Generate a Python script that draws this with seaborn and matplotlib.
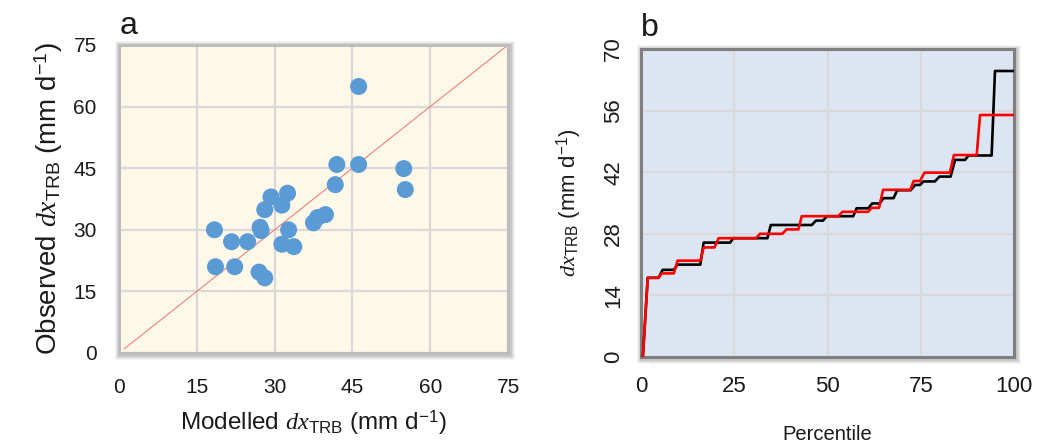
import numpy as np
import pandas as pd
import matplotlib
matplotlib.use("Agg")
import matplotlib.pyplot as plt
from matplotlib.patches import Rectangle
import seaborn as sns

# ---------------- data ----------------
# panel a: modelled vs observed dx_TRB (mm d-1)
modelled = [46.2, 42.0, 46.2, 54.9, 55.2, 41.7, 32.5, 29.3, 31.4, 28.1,
            39.8, 38.3, 37.5, 27.2, 27.4, 32.7, 18.4, 21.7, 24.8, 31.4,
            33.7, 18.6, 22.3, 27.0, 28.1]
observed = [64.9, 45.9, 45.9, 44.9, 39.8, 41.0, 38.9, 38.0, 36.0, 34.9,
            33.7, 33.0, 31.7, 30.6, 29.8, 30.0, 30.0, 27.1, 27.1, 26.5,
            25.9, 21.0, 21.0, 19.7, 18.3]
one_to_one = [1, 75]

# panel b: percentile curves (flat segments: start pct, end pct, level)
curve_start = (0.5, 0.0)
obs_seg_start = [1.8, 5.8, 9.8, 16.8, 24.7, 34.8, 46.9, 49.8, 57.8, 62.0,
                 65.0, 68.7, 73.5, 75.7, 80.0, 84.2, 87.8, 94.9]
obs_seg_end = [4.7, 8.8, 15.9, 23.9, 33.9, 45.8, 48.8, 56.9, 60.9, 64.0,
               67.7, 72.3, 74.8, 78.8, 83.0, 86.9, 94.0, 100.0]
obs_level = [18.0, 19.8, 21.0, 26.0, 27.0, 30.0, 31.0, 32.0, 33.8, 34.9,
             36.1, 37.9, 39.1, 39.9, 41.0, 44.8, 45.8, 65.0]

mod_seg_start = [1.8, 5.6, 9.8, 16.8, 20.8, 31.9, 39.0, 43.1, 54.0, 61.8,
                 64.9, 73.1, 76.0, 83.9, 90.9]
mod_seg_end = [4.7, 8.8, 15.9, 19.7, 30.8, 37.9, 42.2, 52.9, 60.9, 63.8,
               72.2, 74.8, 82.8, 90.0, 100.0]
mod_level = [18.0, 19.0, 21.9, 24.9, 27.0, 28.0, 29.0, 32.0, 33.0, 33.9,
             38.0, 40.0, 41.9, 45.9, 55.0]

a_ticks = [0, 15, 30, 45, 60, 75]
b_xticks = [0, 25, 50, 75, 100]
b_yticks = [0, 14, 28, 42, 56, 70]


def build_curve(starts, ends, levels):
    xs = [curve_start[0]]
    ys = [curve_start[1]]
    for s, e, v in zip(starts, ends, levels):
        xs += [s, e]
        ys += [v, v]
    return pd.DataFrame({"pct": xs, "val": ys})


obs_df = build_curve(obs_seg_start, obs_seg_end, obs_level)
mod_df = build_curve(mod_seg_start, mod_seg_end, mod_level)
scatter_df = pd.DataFrame({"modelled": modelled, "observed": observed})

# ---------------- style ----------------
sns.set_theme(style="white")
plt.rcParams["font.family"] = ["Liberation Sans", "DejaVu Sans"]
plt.rcParams["mathtext.fontset"] = "custom"
plt.rcParams["mathtext.it"] = "Liberation Serif:italic"
plt.rcParams["mathtext.rm"] = "Liberation Sans"
plt.rcParams["mathtext.sf"] = "Liberation Sans"

W, H = 1045, 445
fig = plt.figure(figsize=(W / 100, H / 100), dpi=100)


def px_axes(l, t, r, b):
    ax = fig.add_axes([l / W, 1 - b / H, (r - l) / W, (b - t) / H])
    ax.set_zorder(2)
    return ax


def shadow(l, t, r, b):
    for i, a in enumerate([0.04, 0.05, 0.06, 0.08]):
        d = 5 - i
        rect = Rectangle(((l - d + 1) / W, 1 - (b + d + 2) / H),
                         (r - l + 2 * d + 1) / W, (b - t + 2 * d + 1) / H,
                         transform=fig.transFigure, facecolor="black",
                         alpha=a, edgecolor="none", zorder=-5)
        fig.patches.append(rect)


# ---------------- panel a ----------------
shadow(119, 45, 508, 353)
ax1 = px_axes(119, 45, 508, 353)
ax1.set_facecolor("#fdf8e8")
sns.scatterplot(data=scatter_df, x="modelled", y="observed", ax=ax1,
                s=150, color="#5b9bd5", edgecolor="none", linewidth=0,
                zorder=3)
ax1.plot(one_to_one, one_to_one, color="#f07070", lw=0.7, zorder=2)
ax1.set_xlim(0, 75)
ax1.set_ylim(0, 75)
ax1.set_xticks(a_ticks)
ax1.set_yticks(a_ticks)
ax1.grid(True, color="#d9d9d9", lw=1.6)
ax1.set_axisbelow(True)
ax1.tick_params(axis="both", length=0, labelsize=15, colors="#1a1a1a")
ax1.tick_params(axis="y", pad=16)
ax1.tick_params(axis="x", pad=18)
for sp in ax1.spines.values():
    sp.set_color("#bdbdbd")
    sp.set_linewidth(2.2)
ax1.set_xlabel(r"Modelled $dx_{\mathrm{TRB}}$ (mm d$^{\mathrm{-1}}$)",
               fontsize=17.5, labelpad=8, color="#1a1a1a")
ax1.set_ylabel(r"Observed $dx_{\mathrm{TRB}}$ (mm d$^{\mathrm{-1}}$)",
               fontsize=20, labelpad=6, color="#1a1a1a")
fig.text(120 / W, 1 - 34 / H, "a", fontsize=23, color="#1a1a1a")

# ---------------- panel b ----------------
shadow(641, 49, 1014, 357)
ax2 = px_axes(641, 49, 1014, 357)
ax2.set_facecolor("#dce6f2")
sns.lineplot(data=obs_df, x="pct", y="val", ax=ax2, sort=False,
             color="black", lw=1.9, zorder=3)
sns.lineplot(data=mod_df, x="pct", y="val", ax=ax2, sort=False,
             color="#ff0000", lw=1.9, zorder=4)
ax2.set_xlim(0, 100)
ax2.set_ylim(0, 70)
ax2.set_xticks(b_xticks)
ax2.set_yticks(b_yticks)
ax2.grid(True, color="#d9d9d9", lw=1.6)
ax2.set_axisbelow(True)
ax2.tick_params(axis="both", length=0, labelsize=16, colors="#1a1a1a")
ax2.tick_params(axis="x", pad=14)
ax2.tick_params(axis="y", pad=12)
for lab in ax2.get_yticklabels():
    lab.set_rotation(90)
    lab.set_va("center")
for sp in ax2.spines.values():
    sp.set_color("#808080")
    sp.set_linewidth(2.2)
ax2.set_xlabel("Percentile", fontsize=14.5, labelpad=20, color="#1a1a1a")
ax2.set_ylabel(r"$dx_{\mathrm{TRB}}$ (mm d$^{\mathrm{-1}}$)",
               fontsize=16, labelpad=14, color="#1a1a1a")
fig.text(641 / W, 1 - 36 / H, "b", fontsize=23, color="#1a1a1a")

fig.savefig("out.png", dpi=100)
